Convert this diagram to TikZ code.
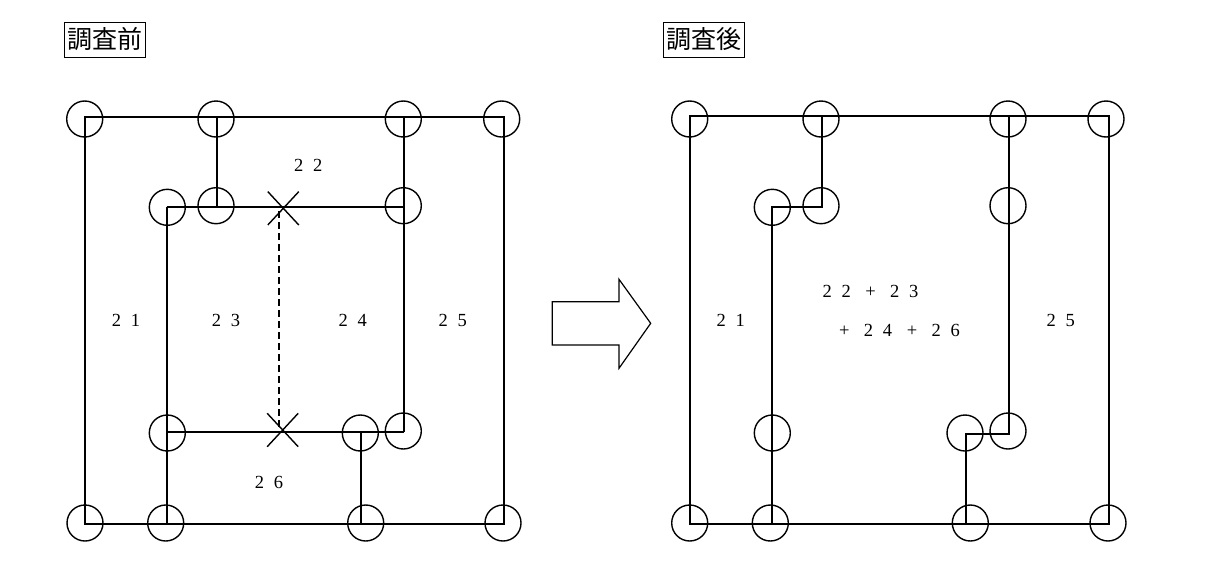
\documentclass[tikz,border=0pt]{standalone}
\usepackage{fontspec}
\newfontfamily\jpfont{Noto Sans CJK JP}
\newfontfamily\numfont{Liberation Serif}
\newcommand\twodig[2]{\makebox[9.25pt]{#1}\hspace{9.75pt}\makebox[9.25pt]{#2}}
\begin{document}
\begin{tikzpicture}[x=1pt,y=-1pt,
  wall/.style={line width=2.2pt,line join=miter},
  pillar/.style={circle,draw,line width=1.4pt,minimum size=36pt,inner sep=0pt},
  cross/.style={line width=1.4pt},
  hidden/.style={line width=2pt,dash pattern=on 7pt off 4pt},
  lbl/.style={anchor=base,inner sep=0pt,font=\numfont\fontsize{18.5}{21}\selectfont},
  titlebox/.style={draw,line width=0.9pt,inner sep=1pt,minimum width=81pt,minimum height=35pt,font=\jpfont\fontsize{25}{27}\selectfont},
  bigarrow/.style={line width=1.2pt,line join=miter}]
\useasboundingbox[fill=white] (0,0) rectangle (1212,576);

% ---------- titles
\node[titlebox] (tbefore) at (104.5,39.5) {調査前};
\node[titlebox] (tafter) at (703.5,39.5) {調査後};

% ---------- left plan: walls
\coordinate (L1) at (85,116.7);
\coordinate (L2) at (504,523.7);
\draw[wall] (L1) rectangle (L2);
\draw[wall] (216.7,116.7) -- (216.7,207);
\draw[wall] (166.7,207) -- (404,207);
\draw[wall] (404,116.7) -- (404,432);
\draw[wall] (166.7,207) -- (166.7,523.7);
\draw[wall] (166.7,432) -- (404,432);
\draw[wall] (361,432) -- (361,523.7);
\draw[hidden] (278.7,211) -- (278.7,430);

% crosses
\draw[cross] (267.8,191.6) -- (298.8,225) (267.8,225) -- (298.8,191.6);
\draw[cross] (267.2,413.3) -- (298.2,446.7) (267.2,446.7) -- (298.2,413.3);

% pillars
\node[pillar] (la1) at (84.7,119) {};
\node[pillar] (la2) at (216,119) {};
\node[pillar] (la3) at (403.3,119) {};
\node[pillar] (la4) at (501.7,119) {};
\node[pillar] (lb1) at (167.3,207.3) {};
\node[pillar] (lb2) at (216,205.7) {};
\node[pillar] (lb3) at (403.3,205.7) {};
\node[pillar] (lc1) at (167.3,433) {};
\node[pillar] (lc2) at (360.3,433) {};
\node[pillar] (lc3) at (403.3,431) {};
\node[pillar] (ld1) at (85,523) {};
\node[pillar] (ld2) at (165.7,523) {};
\node[pillar] (ld3) at (365.7,523) {};
\node[pillar] (ld4) at (503,523) {};

% labels
\node[lbl] (n22) at (308.3,171) {\twodig22};
\node[lbl] (n21) at (126,326.7) {\twodig21};
\node[lbl] (n23) at (226,326.7) {\twodig23};
\node[lbl] (n24) at (352.7,326.7) {\twodig24};
\node[lbl] (n25) at (452.7,326.7) {\twodig25};
\node[lbl] (n26) at (269,488.3) {\twodig26};

% ---------- arrow
\draw[bigarrow] (552.3,301.7) -- (619,301.7) -- (619,279.3) -- (650.7,323.3)
  -- (619,368.3) -- (619,345) -- (552.3,345) -- cycle;

% ---------- right plan: walls
\coordinate (R1) at (690,116.3);
\coordinate (R2) at (1109,523.7);
\draw[wall] (R1) rectangle (R2);
\draw[wall] (822,116.3) -- (822,207) -- (772.3,207) -- (772.3,523.7);
\draw[wall] (1008.7,116.3) -- (1008.7,433.7) -- (965.7,433.7) -- (965.7,523.7);

% pillars
\node[pillar] (ra1) at (689.7,119) {};
\node[pillar] (ra2) at (821,119) {};
\node[pillar] (ra3) at (1008,119) {};
\node[pillar] (ra4) at (1106,119) {};
\node[pillar] (rb1) at (772.3,207.3) {};
\node[pillar] (rb2) at (821,205.7) {};
\node[pillar] (rb3) at (1008,205.7) {};
\node[pillar] (rc1) at (772.3,433) {};
\node[pillar] (rc2) at (965,433) {};
\node[pillar] (rc3) at (1008,431) {};
\node[pillar] (rd1) at (689.7,523) {};
\node[pillar] (rd2) at (770.3,523) {};
\node[pillar] (rd3) at (970.3,523) {};
\node[pillar] (rd4) at (1108,523) {};

% labels
\node[lbl] (m21) at (730.7,326.7) {\twodig21};
\node[lbl] (m25) at (1060.7,326.7) {\twodig25};
\node[lbl] (mline1) at (870.5,297.8) {\twodig22\hspace{14.5pt}+\hspace{14.5pt}\twodig23};
\node[lbl] (mline2) at (899.5,336.2) {+\hspace{14.5pt}\twodig24\hspace{14.5pt}+\hspace{14.5pt}\twodig26};
\end{tikzpicture}
\end{document}
